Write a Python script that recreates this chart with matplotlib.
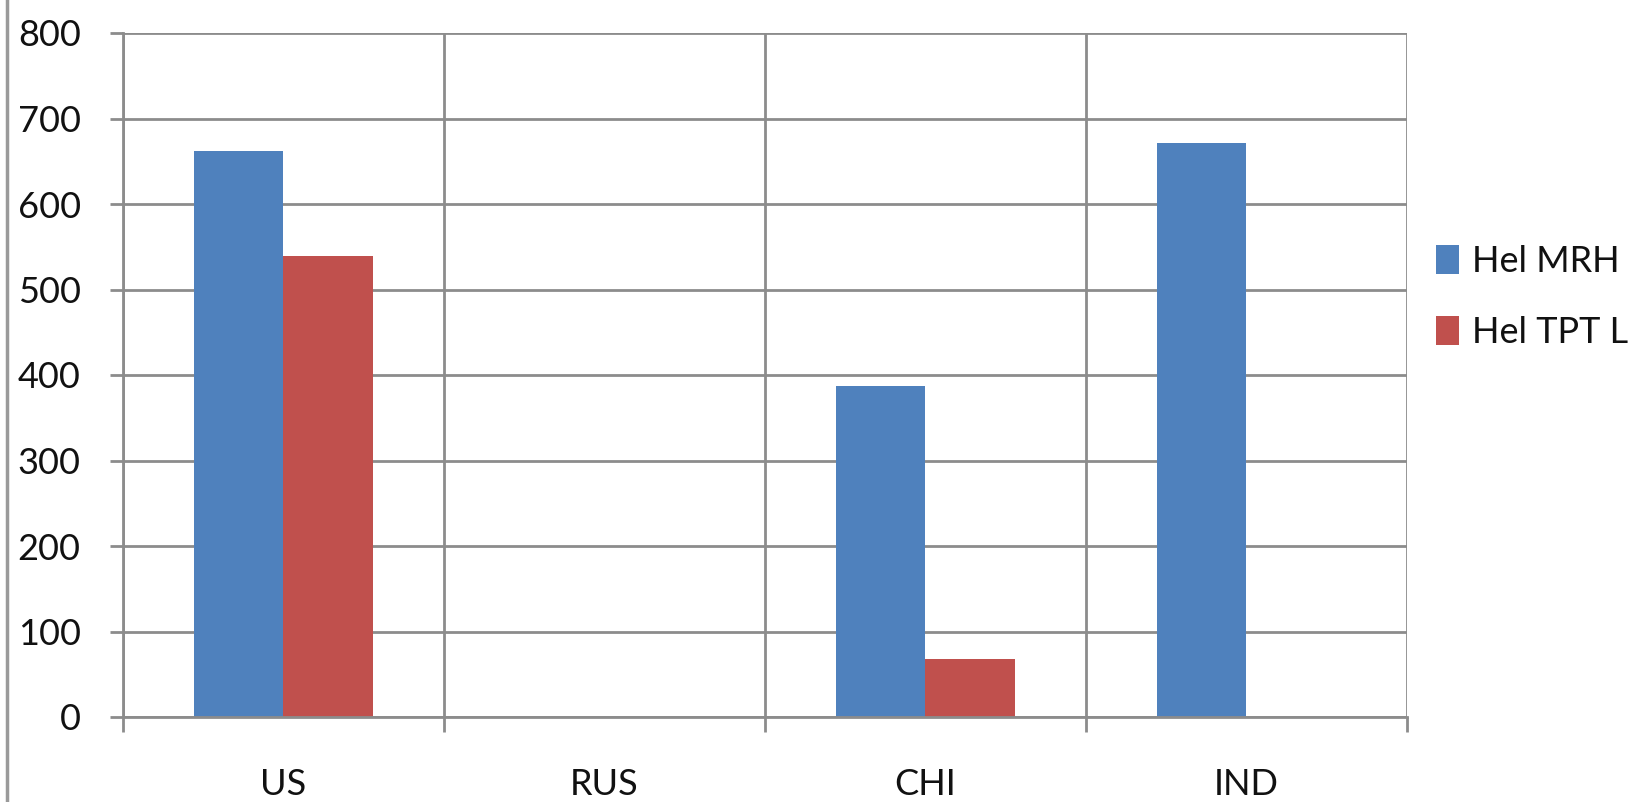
import matplotlib
matplotlib.use("Agg")
import matplotlib.pyplot as plt
from matplotlib.patches import Patch
from matplotlib.lines import Line2D

categories = ["US", "RUS", "CHI", "IND"]
series_names = ["Hel MRH", "Hel TPT L"]
hel_mrh = [662, 0, 387, 671]
hel_tpt = [539, 0, 68, 0]
yticks = [0, 100, 200, 300, 400, 500, 600, 700, 800]

blue = "#4F81BD"
red = "#C0504D"
grid_c = "#8C8C8C"
text_c = "#111111"

plt.rcParams['font.family'] = ['Lato', 'DejaVu Sans']

fig = plt.figure(figsize=(16.33, 8.02), dpi=100)
ax = fig.add_axes([123/1633, 85/802, (1407-123)/1633, (717-33)/802])

x = list(range(len(categories)))
w = 0.28
ax.bar([i - 0.14 for i in x], hel_mrh, width=w, color=blue, zorder=3)
ax.bar([i + 0.14 for i in x], hel_tpt, width=w, color=red, zorder=3)

ax.set_xlim(-0.5, len(categories) - 0.5)
ax.set_ylim(0, 800)
ax.set_yticks(yticks)
ax.set_yticklabels([str(v) for v in yticks])

# category boundaries as major ticks / gridlines, labels at centers as minor ticks
bounds = [i - 0.5 for i in range(len(categories) + 1)]
ax.set_xticks(bounds)
ax.set_xticklabels([''] * len(bounds))
ax.set_xticks(x, minor=True)
ax.set_xticklabels(categories, minor=True)

ax.grid(True, which='major', axis='both', color=grid_c, linewidth=2, zorder=0)
ax.tick_params(axis='x', which='major', length=11, width=2, color=grid_c, direction='out')
ax.tick_params(axis='x', which='minor', length=0, pad=37, labelsize=26, labelcolor=text_c)
ax.tick_params(axis='y', which='major', length=9.5, width=2, color=grid_c, pad=21, labelsize=26, labelcolor=text_c)

for s in ['top', 'right']:
    ax.spines[s].set_visible(False)
for s in ['left', 'bottom']:
    ax.spines[s].set_color(grid_c)
    ax.spines[s].set_linewidth(2)
    ax.spines[s].set_zorder(4)

# chart-area border on the left
fig.add_artist(Line2D([7/1633, 7/1633], [0, 1], transform=fig.transFigure, color='#9a9a9a', linewidth=2.5))

handles = [Patch(facecolor=blue), Patch(facecolor=red)]
leg = fig.legend(handles, series_names, loc='upper left', bbox_to_anchor=(1436/1633, 1 - 245/802),
                 frameon=False, fontsize=26, handlelength=0.65, handleheight=0.85, handletextpad=0.35,
                 labelspacing=1.05, borderaxespad=0, borderpad=0)
for t in leg.get_texts():
    t.set_color(text_c)

fig.savefig("out.png", dpi=100)
